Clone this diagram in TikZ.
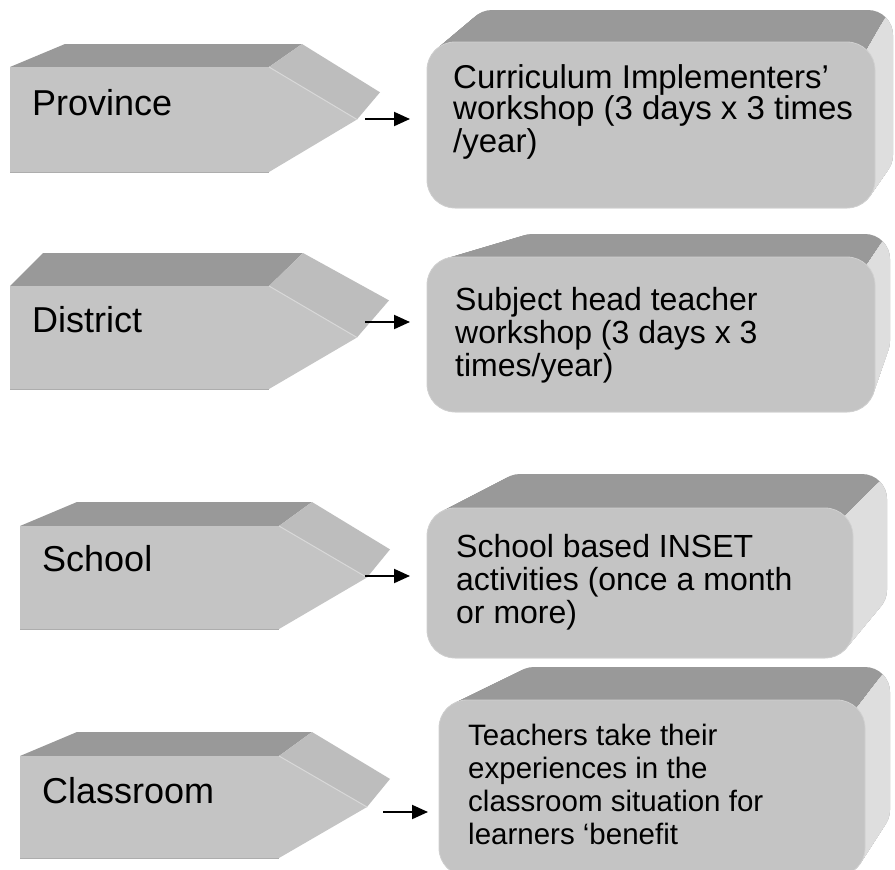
\documentclass[tikz,border=0pt]{standalone}
\usepackage{fontspec}
\setmainfont{Liberation Sans}
\usetikzlibrary{arrows.meta}

\definecolor{slabtop}{HTML}{999999}
\definecolor{slabside}{HTML}{DEDEDE}
\definecolor{slabfront}{HTML}{C4C4C4}
\definecolor{tipside}{HTML}{BDBDBD}
\definecolor{edgehi}{HTML}{D8D8D8}
\definecolor{edgelo}{HTML}{ADADAD}

\tikzset{
  label text/.style={anchor=base west, inner sep=0pt, font=\fontsize{36}{40}\selectfont},
  box text/.style={anchor=base west, inner sep=0pt, font=\fontsize{32}{33}\selectfont},
  large box text/.style={anchor=base west, inner sep=0pt, font=\fontsize{33}{32}\selectfont},
  small box text/.style={anchor=base west, inner sep=0pt, font=\fontsize{29.5}{33}\selectfont},
  flow/.style={-{Triangle[length=16pt,width=14pt]}, line width=2pt, black},
}

% Pentagon arrow block: left, top, bottom, corner x, tip x, back-left x, back y, back-right x, back-tip x
\newcommand\pentablock[9]{%
  \pgfmathsetmacro\pmid{(#2+#3)/2}%
  \pgfmathsetmacro\pbty{#7+0.46*(#3-#2)}%
  \fill[slabtop] (#1,#2) -- (#6,#7) -- (#8,#7) -- (#4,#2) -- cycle;
  \fill[tipside] (#4,#2) -- (#8,#7) -- (#9,\pbty) -- (#5,\pmid) -- cycle;
  \fill[slabfront] (#1,#2) -- (#4,#2) -- (#5,\pmid) -- (#4,#3) -- (#1,#3) -- cycle;
  \draw[edgehi, line width=1pt] (#4,#2) -- (#5,\pmid);
  \draw[edgelo, line width=1pt] (#1,#3) -- (#4,#3);
}

% Stack of rounded rectangles sweeping from the back face to the front face
\newcommand\slablayers[9]{%
  \foreach \i in {0,1,...,40}{%
    \pgfmathsetmacro\sa{#5+(#1-#5)*\i/40}%
    \pgfmathsetmacro\sb{#6+(#2-#6)*\i/40}%
    \pgfmathsetmacro\sc{#7+(#3-#7)*\i/40}%
    \pgfmathsetmacro\sd{#8+(#4-#8)*\i/40}%
    \pgfmathsetmacro\sr{25+3*\i/40}%
    \fill[#9, rounded corners=\sr pt] (\sa,\sb) rectangle (\sc,\sd);
  }%
}

% Extruded rounded box: front x1 y1 x2 y2, back x1 y1 x2 y2
\newcommand\slab[8]{%
  \slablayers{#1}{#2}{#3}{#4}{#5}{#6}{#7}{#8}{slabtop}
  \pgfmathsetmacro\pax{#3-8.2}\pgfmathsetmacro\pay{#2+8.2}%
  \pgfmathsetmacro\pbx{#7-7.3}\pgfmathsetmacro\pby{#6+7.3}%
  \pgfmathsetmacro\pcx{\pbx+3*(\pbx-\pax)}\pgfmathsetmacro\pcy{\pby+3*(\pby-\pay)}%
  \begin{scope}
    \clip (\pax,\pay) -- (\pcx,\pcy) -- (1000,\pcy) -- (1000,1000) -- (#3-28,1000) -- (#3-28,\pay) -- cycle;
    \slablayers{#1}{#2}{#3}{#4}{#5}{#6}{#7}{#8}{slabside}
  \end{scope}
  \fill[slabfront, draw=slabfront!80!white, line width=0.8pt, rounded corners=28pt] (#1,#2) rectangle (#3,#4);
}

\begin{document}
\begin{tikzpicture}[x=1pt,y=-1pt]
  \clip (0,0) rectangle (895,870);
  \fill[white] (0,0) rectangle (895,870);

  % left column: levels
  \pentablock{10}{67}{172}{269}{357}{65}{44}{302}{380}
  \pentablock{10}{286}{389}{269}{357}{43}{253}{303}{389}
  \pentablock{20}{526}{629}{279}{367}{77}{502}{312}{390}
  \pentablock{20}{756}{858}{279}{367}{77}{732}{312}{390}

  \node[label text] (province) at (32,115) {Province};
  \node[label text] (district) at (32,332) {District};
  \node[label text] (school) at (42,571) {School};
  \node[label text] (classroom) at (42,803) {Classroom};

  % right column: activities
  \slab{427}{42}{875}{208}{467}{10}{893}{180}
  \slab{427}{257}{875}{412}{507}{234}{890}{366}
  \slab{427}{508}{853}{658}{495}{474}{887}{615}
  \slab{439}{700}{865}{876}{509}{667}{890}{835}

  \node[large box text] (act1) at (453,88) {\vtop{
    \hbox{Curriculum Implementers’}\hbox{workshop (3 days x 3 times}\hbox{/year)}}};
  \node[box text] (act2) at (455,310) {\vtop{
    \hbox{Subject head teacher}\hbox{workshop (3 days x 3}\hbox{times/year)}}};
  \node[box text] (act3) at (456,557) {\vtop{
    \hbox{School based INSET}\hbox{activities (once a month}\hbox{or more)}}};
  \node[small box text] (act4) at (468,745) {\vtop{
    \hbox{Teachers take their}\hbox{experiences in the}\hbox{classroom situation for}\hbox{learners ‘benefit}}};

  % connectors from each level to its activity
  \coordinate (a1s) at (365,119); \coordinate (a1e) at (410,119);
  \coordinate (a2s) at (365,322); \coordinate (a2e) at (410,322);
  \coordinate (a3s) at (365,576); \coordinate (a3e) at (410,576);
  \coordinate (a4s) at (383,812); \coordinate (a4e) at (428,812);
  \draw[flow] (a1s) -- (a1e);
  \draw[flow] (a2s) -- (a2e);
  \draw[flow] (a3s) -- (a3e);
  \draw[flow] (a4s) -- (a4e);
\end{tikzpicture}
\end{document}
